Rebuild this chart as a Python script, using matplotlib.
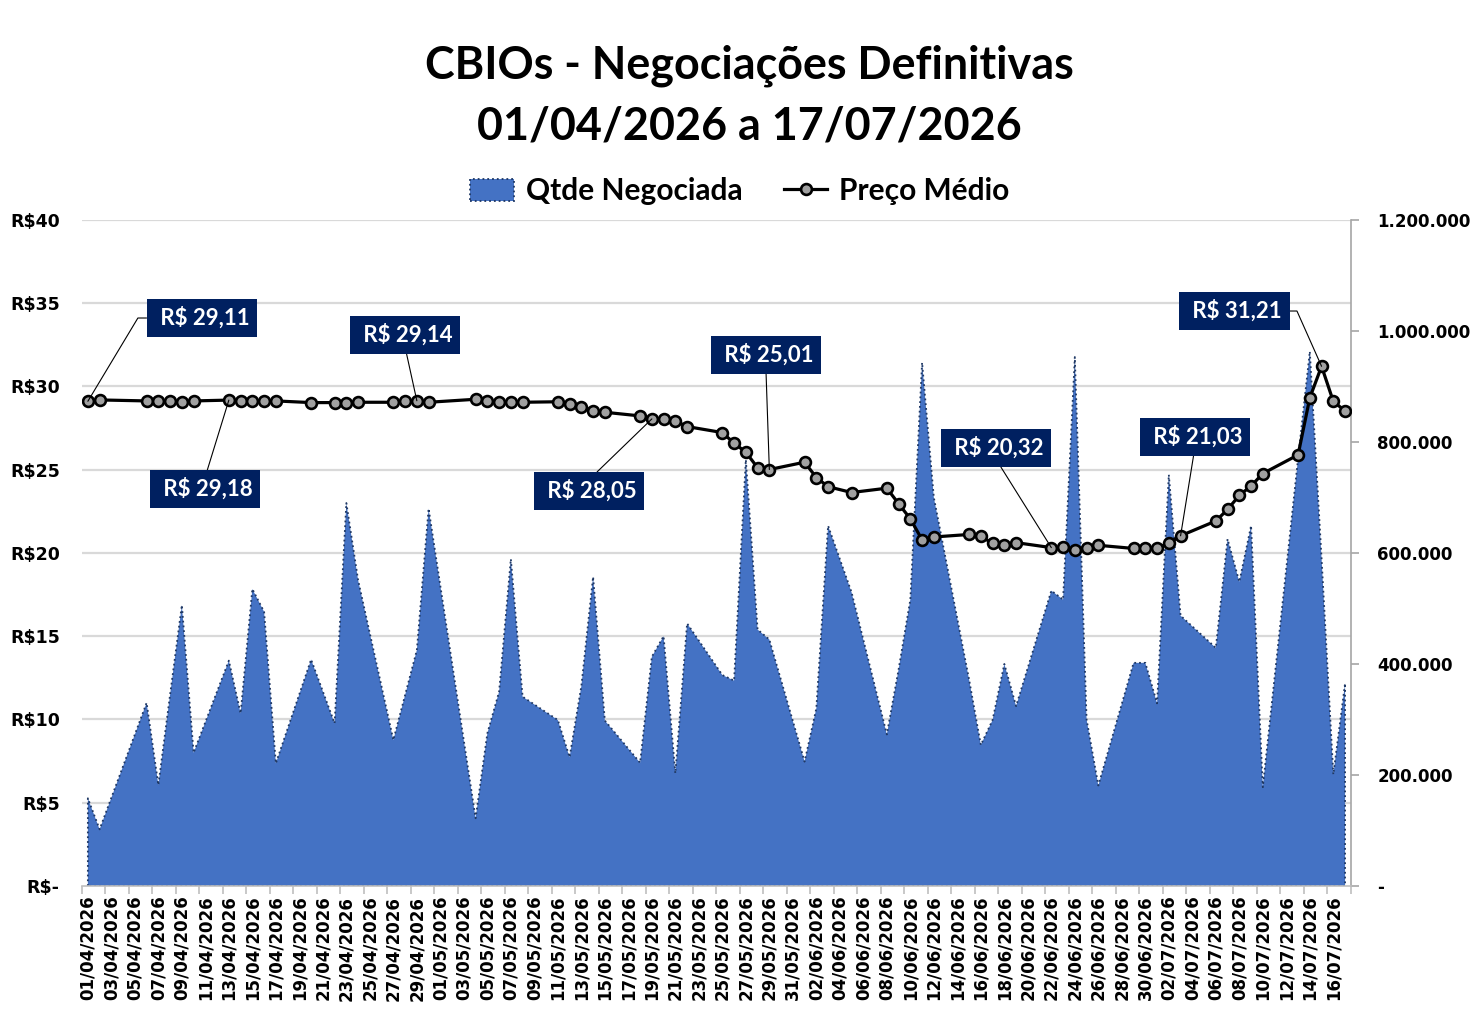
import numpy as np
import pandas as pd
import matplotlib
matplotlib.use('Agg')
import matplotlib.pyplot as plt
import matplotlib.dates as mdates
import matplotlib.transforms as mtransforms
from matplotlib.patches import Patch
from matplotlib.lines import Line2D
from matplotlib.ticker import FixedLocator, FuncFormatter

# dias com negociacao (sem fim de semana e feriados)
datas = ['01/04/2026', '02/04/2026', '06/04/2026', '07/04/2026', '08/04/2026', '09/04/2026', '10/04/2026',
         '13/04/2026', '14/04/2026', '15/04/2026', '16/04/2026', '17/04/2026',
         '20/04/2026', '22/04/2026', '23/04/2026', '24/04/2026',
         '27/04/2026', '28/04/2026', '29/04/2026', '30/04/2026',
         '04/05/2026', '05/05/2026', '06/05/2026', '07/05/2026', '08/05/2026',
         '11/05/2026', '12/05/2026', '13/05/2026', '14/05/2026', '15/05/2026',
         '18/05/2026', '19/05/2026', '20/05/2026', '21/05/2026', '22/05/2026',
         '25/05/2026', '26/05/2026', '27/05/2026', '28/05/2026', '29/05/2026',
         '01/06/2026', '02/06/2026', '03/06/2026', '05/06/2026',
         '08/06/2026', '09/06/2026', '10/06/2026', '11/06/2026', '12/06/2026',
         '15/06/2026', '16/06/2026', '17/06/2026', '18/06/2026', '19/06/2026',
         '22/06/2026', '23/06/2026', '24/06/2026', '25/06/2026', '26/06/2026',
         '29/06/2026', '30/06/2026', '01/07/2026', '02/07/2026', '03/07/2026',
         '06/07/2026', '07/07/2026', '08/07/2026', '09/07/2026', '10/07/2026',
         '13/07/2026', '14/07/2026', '15/07/2026', '16/07/2026', '17/07/2026']

preco = [29.11, 29.19, 29.13, 29.13, 29.13, 29.05, 29.13,
         29.18, 29.13, 29.13, 29.13, 29.13,
         29.03, 29.03, 28.99, 29.05,
         29.05, 29.13, 29.14, 29.05,
         29.23, 29.13, 29.05, 29.05, 29.05,
         29.08, 28.93, 28.79, 28.55, 28.45,
         28.23, 28.05, 28.07, 27.93, 27.59,
         27.23, 26.59, 26.05, 25.12, 25.01,
         25.45, 24.53, 23.98, 23.63,
         23.89, 22.96, 22.05, 20.79, 20.96,
         21.11, 21.00, 20.58, 20.48, 20.62,
         20.32, 20.33, 20.16, 20.27, 20.46,
         20.27, 20.27, 20.31, 20.57, 21.03,
         21.92, 22.61, 23.46, 24.02, 24.77,
         25.89, 29.32, 31.21, 29.10, 28.53]

qtde = [158000, 102000, 330000, 182000, 345000, 506000, 240000,
        406000, 311000, 535000, 494000, 221000,
        408000, 293000, 690000, 551000,
        263000, 344000, 425000, 680000,
        122000, 275000, 350000, 589000, 341000,
        299000, 232000, 360000, 557000, 298000,
        222000, 413000, 450000, 203000, 473000,
        380000, 370000, 768000, 462000, 444000,
        224000, 320000, 649000, 529000,
        273000, 390000, 516000, 943000, 700000,
        372000, 254000, 299000, 400000, 324000,
        532000, 516000, 953000, 300000, 181000,
        402000, 402000, 329000, 741000, 487000,
        429000, 625000, 548000, 649000, 178000,
        770000, 963000, 590000, 201000, 365000]

# precos destacados: data, centro da caixa (dias desde 01/04, R$), ponto de saida do traco
destaques = [('01/04/2026', 9.70, 34.11, (0, 0.5), 'angle,angleA=0,angleB=59'),
             ('13/04/2026', 9.96, 23.84, (0.5, 1), 'arc3'),
             ('29/04/2026', 26.98, 33.09, (0.5, 0), 'arc3'),
             ('19/05/2026', 42.64, 23.72, (0.5, 1), 'arc3'),
             ('29/05/2026', 57.70, 31.89, (0.5, 0), 'arc3'),
             ('22/06/2026', 77.28, 26.31, (0.5, 0), 'arc3'),
             ('03/07/2026', 94.21, 26.97, (0.5, 0), 'arc3'),
             ('15/07/2026', 97.60, 34.53, (1, 0.5), 'angle,angleA=0,angleB=114')]

inicio = pd.Timestamp('2026-04-01')
fim = pd.Timestamp('2026-07-17')

dias = pd.to_datetime(datas, format='%d/%m/%Y')
x = mdates.date2num(dias)
x0 = mdates.date2num(inicio)
x1 = mdates.date2num(fim)

azul = '#4472C4'
azul_borda = '#1F3864'
cinza = '#A6A6A6'
fonte_tit = 'Lato'
fonte_eixo = 'DejaVu Sans'

fig = plt.figure(figsize=(14.8, 10.22), dpi=100)
ax = fig.add_axes([0.0554, 0.1331, 0.8574, 0.6517])
ax2 = ax.twinx()

# area - quantidade (eixo direito)
ax.fill_between(x, qtde, 0, facecolor=azul, edgecolor=azul_borda, linestyle=':', linewidth=1.3, zorder=2)
ax.set_ylim(0, 1200000)
ax.set_xlim(x0 - 0.5, x1 + 0.5)

# preco medio (eixo esquerdo)
ax2.plot(x, preco, color='black', lw=2.3, marker='o', ms=7.8, mfc='#A0A0A0', mec='black', mew=1.9, zorder=3)
ax2.set_ylim(0, 40)

# linhas de grade nos niveis de preco, atras da area
trans = mtransforms.blended_transform_factory(ax.transAxes, ax2.transData)
ax.hlines(np.arange(5, 45, 5), 0, 1, transform=trans, color='#D9D9D9', lw=1.6, zorder=1)

# eixo direito
ax.yaxis.tick_right()
ax.set_yticks(np.arange(0, 1200001, 200000))
ax.yaxis.set_major_formatter(FuncFormatter(lambda v, p: '-' if v == 0 else f'{int(v):,}'.replace(',', '.')))
ax.tick_params(axis='y', length=6, color=cinza, width=1.2, pad=13, labelsize=12)
for t in ax.get_yticklabels():
    t.set_fontweight('bold')
    t.set_family(fonte_eixo)
    t.set_horizontalalignment('left')

# eixo esquerdo
ax2.yaxis.tick_left()
ax2.set_yticks(np.arange(0, 41, 5))
ax2.yaxis.set_major_formatter(FuncFormatter(lambda v, p: 'R$-' if v == 0 else f'R${v:.0f}'))
ax2.tick_params(axis='y', length=0, pad=16, labelsize=12.5)
for t in ax2.get_yticklabels():
    t.set_fontweight('bold')
    t.set_family(fonte_eixo)

# eixo de datas
rot_datas = pd.date_range(inicio, fim, freq='2D')
ax.xaxis.set_major_locator(FixedLocator(mdates.date2num(rot_datas)))
ax.set_xticklabels([d.strftime('%d/%m/%Y') for d in rot_datas], rotation=90,
                   fontsize=12, fontweight='bold', family=fonte_eixo)
ax.xaxis.set_minor_locator(FixedLocator(np.arange(x0 - 0.5, x1 + 0.6, 2)))
ax.tick_params(axis='x', which='major', length=0, pad=7)
ax.tick_params(axis='x', which='minor', length=6, color='#BFBFBF', width=1.2)

for s in ['top', 'left']:
    ax.spines[s].set_visible(False)
ax.spines['right'].set_color(cinza)
ax.spines['right'].set_linewidth(1.2)
ax.spines['bottom'].set_color('#BFBFBF')
ax.spines['bottom'].set_linewidth(1.2)
for s in ax2.spines.values():
    s.set_visible(False)

# caixas com precos
mapa = dict(zip(datas, preco))
for d, dx, py, rp, cs in destaques:
    p = mapa[d]
    xp = mdates.date2num(pd.to_datetime(d, format='%d/%m/%Y'))
    txt = ' R$ ' + f'{p:.2f}'.replace('.', ',')
    ax2.annotate(txt, xy=(xp, p), xytext=(x0 + dx, py), textcoords='data',
                 ha='center', va='center', color='white', fontsize=16, fontweight='bold', family=fonte_tit,
                 bbox=dict(boxstyle='square,pad=0.36', fc='#002060', ec='none'),
                 arrowprops=dict(arrowstyle='-', color='black', lw=0.8, relpos=rp,
                                 shrinkA=0, shrinkB=0, connectionstyle=cs),
                 zorder=5)

# titulo
fig.text(0.506, 1 - 66 / 1022, 'CBIOs - Negociações Definitivas', ha='center', va='center',
         fontsize=32.3, fontweight='bold', family=fonte_tit)
fig.text(0.506, 1 - 126 / 1022, '01/04/2026 a 17/07/2026', ha='center', va='center',
         fontsize=32.3, fontweight='bold', family=fonte_tit)

# legenda
h1 = Patch(facecolor=azul, edgecolor=azul_borda, linestyle=':', linewidth=1.3)
h2 = Line2D([], [], color='black', lw=2.3, marker='o', ms=7.8, mfc='#A0A0A0', mec='black', mew=1.9)
fig.legend([h1, h2], ['Qtde Negociada', 'Preço Médio'], loc='center', bbox_to_anchor=(0.5, 1 - 191 / 1022),
           ncol=2, frameon=False, prop={'family': fonte_tit, 'weight': 'bold', 'size': 21.5},
           handlelength=1.45, handleheight=0.75, columnspacing=1.4, handletextpad=0.4)

fig.savefig('out.png', dpi=100)
